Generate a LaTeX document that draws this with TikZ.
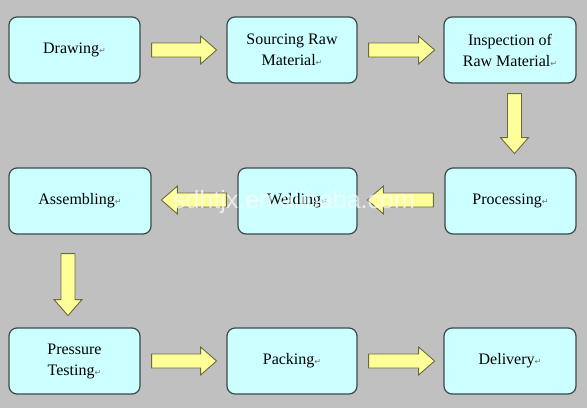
\documentclass[tikz,border=0pt]{standalone}
\usepackage{fontspec}
\setmainfont{Liberation Serif}
\newfontfamily\dejavu{DejaVu Sans}
\newfontfamily\wmfont{Liberation Sans}
\usetikzlibrary{calc}
\definecolor{bg}{HTML}{C0C0C0}
\definecolor{boxfill}{HTML}{CCFFFF}
\definecolor{boxline}{HTML}{3A4A4C}
\definecolor{arrfill}{HTML}{FFFF99}
\definecolor{arrline}{HTML}{6A6A40}
\definecolor{retgray}{HTML}{707070}
\newcommand\retmark{\textcolor{retgray}{\dejavu\fontsize{8}{8}\selectfont ↵}}
\newcommand\blkarrow[3]{\draw[blk, shift={#1}, rotate=#2] (0,7) -- (#3-16,7) -- (#3-16,14) -- (#3,0) -- (#3-16,-14) -- (#3-16,-7) -- (0,-7) -- cycle;}
\tikzset{
  box/.style={draw=boxline, fill=boxfill, line width=1.2pt, rounded corners=8pt,
    minimum height=66pt, align=center, inner sep=2pt,
    font=\fontsize{16}{21}\selectfont},
  blk/.style={draw=arrline, fill=arrfill, line width=0.9pt, line join=miter},
  watermark/.style={text=white, text opacity=0.7, font=\wmfont\fontsize{25}{25}\selectfont, inner sep=0pt}
}
\begin{document}
\begin{tikzpicture}[x=1pt, y=-1pt]
\fill[bg] (0,0) rectangle (587,408);
\useasboundingbox (0,0) rectangle (587,408);
% row 1
\node[box, minimum width=131pt] (b1) at (74.5,50) {\raisebox{-2pt}{Drawing\retmark}};
\node[box, minimum width=130pt] (b2) at (292,50) {Sourcing Raw\\Material\retmark};
\node[box, minimum width=132pt] (b3) at (510,50) {Inspection of\\Raw Material\retmark};
% row 2
\node[box, minimum width=131pt] (b4) at (510.5,201) {\raisebox{-2pt}{Processing\retmark}};
\node[box, minimum width=119pt] (b5) at (297.5,201) {\raisebox{-2pt}{Welding\retmark}};
\node[box, minimum width=142pt] (b6) at (80,201) {\raisebox{-2pt}{Assembling\retmark}};
% row 3
\node[box, minimum width=131pt] (b7) at (74.5,361) {Pressure\\Testing\retmark};
\node[box, minimum width=130pt] (b8) at (292,361) {\raisebox{-2pt}{Packing\retmark}};
\node[box, minimum width=132pt] (b9) at (510,361) {\raisebox{-2pt}{Delivery\retmark}};
% block arrows
\blkarrow{($(b1.east)+(11,0)$)}{0}{65}
\blkarrow{($(b2.east)+(11,0)$)}{0}{66}
\blkarrow{($(b3.south)+(4.5,10)$)}{-90}{60}
\blkarrow{($(b4.west)+(-11,-1)$)}{180}{66}
\blkarrow{($(b5.west)+(-11,-1)$)}{180}{65}
\blkarrow{($(b6.south)+(-12,19)$)}{-90}{62}
\blkarrow{($(b7.east)+(11,0)$)}{0}{65}
\blkarrow{($(b8.east)+(11,0)$)}{0}{66}
% watermark
\node[watermark, anchor=base] (wm) at (294,208) {sdhtjx.en.alibaba.com};
\end{tikzpicture}
\end{document}
